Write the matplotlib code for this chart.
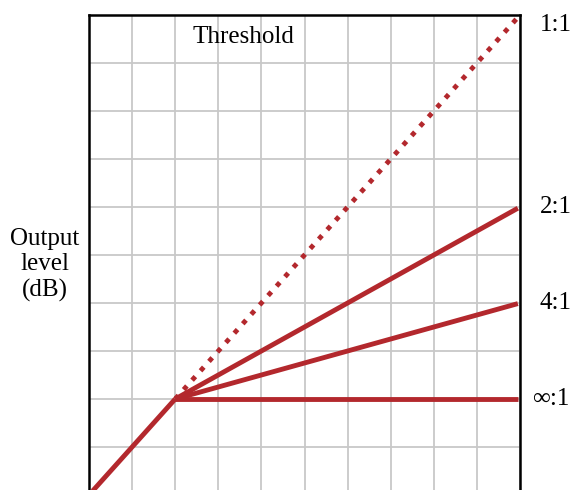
import matplotlib.pyplot as plt

# compressor transfer curves (input vs output level, grid units)
threshold = 2
input_level = [0, threshold, 10]
ratios = ['1:1', '2:1', '4:1', '∞:1']
ratio_values = [1, 2, 4, None]

red = '#b3282d'
serif = 'Liberation Serif'

fig = plt.figure(figsize=(5.72, 4.9), dpi=100)
ax = fig.add_axes([89 / 572, -5 / 490, 431 / 572, 480 / 490])

# segment below threshold
ax.plot([0, threshold], [0, threshold], color=red, lw=3.5, solid_capstyle='butt', zorder=3)

for name, r in zip(ratios, ratio_values):
    x_end = 9.95
    if r is None:
        y_end = threshold
    else:
        y_end = threshold + (10 - threshold) / r
    xs = [threshold, x_end]
    ys = [threshold, threshold + (y_end - threshold) * (x_end - threshold) / (10 - threshold)]
    if r == 1:
        ax.plot(xs, ys, color=red, lw=3.5, linestyle=(0, (1, 1.6)), zorder=3)
    else:
        ax.plot(xs, ys, color=red, lw=3.5, solid_capstyle='butt', zorder=3)
    label_y = y_end if r != 1 else 9.8
    label_x = 10.45 if r is not None else 10.28
    ax.text(label_x, label_y, name, fontsize=18, family=serif,
            va='center', ha='left', clip_on=False)

ax.set_xlim(0, 10)
ax.set_ylim(0, 10)
ax.set_xticks(range(11))
ax.set_yticks(range(11))
ax.tick_params(length=0, labelbottom=False, labelleft=False)
ax.grid(True, color='#c8c8c8', lw=1.3)
ax.set_axisbelow(True)
for side in ['left', 'right', 'top']:
    ax.spines[side].set_linewidth(1.8)
ax.spines['bottom'].set_visible(False)

ax.text(2.41, 9.54, 'Threshold', fontsize=18, family=serif,
        va='center', ha='left')
fig.text(45 / 572, 1 - 265 / 490, 'Output\nlevel\n(dB)', fontsize=18,
         family=serif, ha='center', va='center', linespacing=1.22)

fig.savefig('out.png', dpi=100)
